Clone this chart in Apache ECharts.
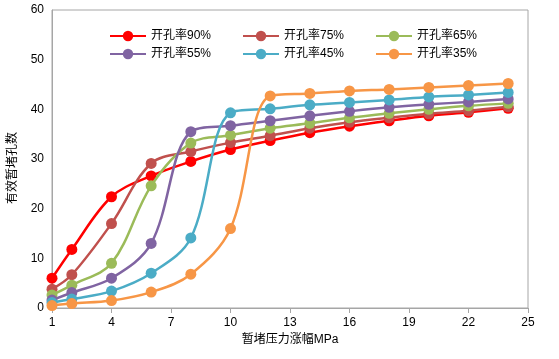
<!DOCTYPE html>
<html><head><meta charset="utf-8">
<script src="https://cdn.jsdelivr.net/npm/echarts@6/dist/echarts.min.js"></script>
<style>html,body{margin:0;padding:0;background:#fff}#c{width:559px;height:359px}</style>
</head><body><div id="c"></div>
<script>
var xValues = [1, 2, 4, 6, 8, 10, 12, 14, 16, 18, 20, 22, 24];
var xTickLabels = [1, 4, 7, 10, 13, 16, 19, 22, 25];
var seriesNames = ['开孔率90%', '开孔率75%', '开孔率65%', '开孔率55%', '开孔率45%', '开孔率35%'];
var s90 = [6.0, 11.8, 22.4, 26.6, 29.5, 31.9, 33.7, 35.3, 36.6, 37.7, 38.7, 39.4, 40.2];
var s75 = [3.8, 6.7, 17.0, 29.1, 31.5, 33.3, 34.7, 36.2, 37.4, 38.3, 39.1, 39.7, 40.5];
var s65 = [2.6, 4.6, 9.0, 24.6, 33.2, 34.8, 36.2, 37.2, 38.3, 39.2, 40.0, 40.7, 41.2];
var s55 = [1.6, 3.1, 6.0, 13.0, 35.5, 36.7, 37.7, 38.7, 39.6, 40.4, 41.0, 41.5, 42.1];
var s45 = [1.1, 1.8, 3.4, 7.0, 14.1, 39.3, 40.1, 40.9, 41.4, 41.9, 42.5, 42.9, 43.4];
var s35 = [0.5, 0.9, 1.5, 3.2, 6.8, 16.0, 42.7, 43.2, 43.7, 44.0, 44.4, 44.8, 45.2];
var colors = ['#FF0000', '#C0504D', '#9BBB59', '#8064A2', '#4BACC6', '#F79646'];
var allData = [s90, s75, s65, s55, s45, s35];

var font = "'Liberation Sans', 'Noto Sans CJK SC', sans-serif";
var series = allData.map(function (d, i) {
  return {
    name: seriesNames[i], type: 'line', smooth: 0.35,
    data: d.map(function (v, j) { return [xValues[j], v]; }),
    symbol: 'circle', symbolSize: 11,
    lineStyle: { color: colors[i], width: 2.5 },
    itemStyle: { color: colors[i] },
    z: 2 + i
  };
});
var legendPos = [[109, 30], [242, 30], [375, 30], [109, 48], [242, 48], [375, 48]];
var legends = seriesNames.map(function (n, i) {
  return {
    data: [n], left: legendPos[i][0], top: legendPos[i][1], padding: 0,
    itemWidth: 36, itemHeight: 13, itemGap: 4,
    textStyle: { fontSize: 12, color: '#000', fontFamily: font },
    selectedMode: false
  };
});
var chart = echarts.init(document.getElementById('c'));
chart.setOption({
  animation: false,
  color: colors,
  grid: { left: 52, right: 31, top: 10, bottom: 51, show: true, borderColor: '#A6A6A6', borderWidth: 1, outerBoundsMode: 'none', containLabel: false },
  legend: legends,
  graphic: [{
    type: 'text', x: 13, y: 168, rotation: Math.PI / 2,
    style: { text: '有效暂堵孔数', fontSize: 12, fill: '#000', fontFamily: font, align: 'center', verticalAlign: 'middle' }
  }],
  xAxis: {
    type: 'value', min: 1, max: 25,
    name: '暂堵压力涨幅MPa', nameLocation: 'middle', nameGap: 24,
    nameTextStyle: { fontSize: 12, color: '#000', fontFamily: font },
    axisLine: { lineStyle: { color: '#A6A6A6' } },
    axisTick: { show: true, length: 5, customValues: xTickLabels, lineStyle: { color: '#A6A6A6' } },
    axisLabel: { customValues: xTickLabels, fontSize: 12, color: '#000', fontFamily: font, margin: 9 },
    splitLine: { show: false }
  },
  yAxis: {
    type: 'value', min: 0, max: 60, interval: 10,
    axisLine: { show: true, lineStyle: { color: '#A6A6A6' } },
    axisTick: { show: false },
    axisLabel: { fontSize: 12, color: '#000', fontFamily: font, margin: 8 },
    splitLine: { show: false }
  },
  series: series
});
</script></body></html>
